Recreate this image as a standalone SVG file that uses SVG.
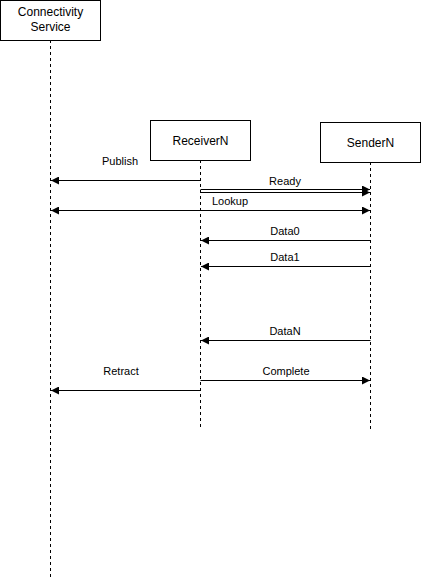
<svg xmlns="http://www.w3.org/2000/svg" width="421" height="581" viewBox="0 0 421 581">
<style>
.box{fill:#fff;stroke:#000;stroke-width:1}
.life{stroke:#000;stroke-width:1;stroke-dasharray:3,3;fill:none}
.msg{stroke:#000;stroke-width:1;fill:none}
.t{font-family:"Liberation Sans",Arial,sans-serif;font-size:12px;fill:#000;text-anchor:middle}
.l{font-family:"Liberation Sans",Arial,sans-serif;font-size:11px;fill:#000;text-anchor:middle}
</style>
<defs>
<marker id="ah" viewBox="0 0 10 10" refX="10" refY="5" markerWidth="8" markerHeight="8" markerUnits="userSpaceOnUse" orient="auto-start-reverse">
<path d="M0,0 L10,5 L0,10 Z" fill="#000"/>
</marker>
</defs>
<rect width="421" height="581" fill="#fff"/>
<g id="connectivity-service">
<line class="life" x1="50.5" y1="40" x2="50.5" y2="578"/>
<rect class="box" x="0.5" y="0.5" width="100" height="40"/>
<text class="t" x="50.5" y="16">Connectivity</text>
<text class="t" x="50.5" y="31">Service</text>
</g>
<g id="receiver">
<line class="life" x1="200.5" y1="160" x2="200.5" y2="428"/>
<rect class="box" x="150.5" y="120.5" width="100" height="40"/>
<text class="t" x="200.5" y="145">ReceiverN</text>
</g>
<g id="sender">
<line class="life" x1="370.5" y1="162" x2="370.5" y2="430"/>
<rect class="box" x="320.5" y="122.5" width="100" height="40"/>
<text class="t" x="370.5" y="147">SenderN</text>
</g>
<g id="connectors">
<line class="msg" x1="200.5" y1="180.5" x2="51" y2="180.5" marker-end="url(#ah)"/>
<text class="l" x="120" y="165">Publish</text>
<line class="msg" x1="200.5" y1="189.5" x2="370" y2="189.5" marker-end="url(#ah)"/>
<line class="msg" x1="200.5" y1="192.5" x2="370" y2="192.5" marker-end="url(#ah)"/>
<text class="l" x="285" y="185">Ready</text>
<line class="msg" x1="51" y1="210.5" x2="370" y2="210.5" marker-start="url(#ah)" marker-end="url(#ah)"/>
<text class="l" x="230" y="205">Lookup</text>
<line class="msg" x1="370.5" y1="240.5" x2="201" y2="240.5" marker-end="url(#ah)"/>
<text class="l" x="285" y="235">Data0</text>
<line class="msg" x1="370.5" y1="266.5" x2="201" y2="266.5" marker-end="url(#ah)"/>
<text class="l" x="285" y="261">Data1</text>
<line class="msg" x1="370.5" y1="340.5" x2="201" y2="340.5" marker-end="url(#ah)"/>
<text class="l" x="285" y="335">DataN</text>
<line class="msg" x1="200.5" y1="380.5" x2="370" y2="380.5" marker-end="url(#ah)"/>
<text class="l" x="286" y="375">Complete</text>
<line class="msg" x1="200.5" y1="390.5" x2="51" y2="390.5" marker-end="url(#ah)"/>
<text class="l" x="121" y="375">Retract</text>
</g>
</svg>
